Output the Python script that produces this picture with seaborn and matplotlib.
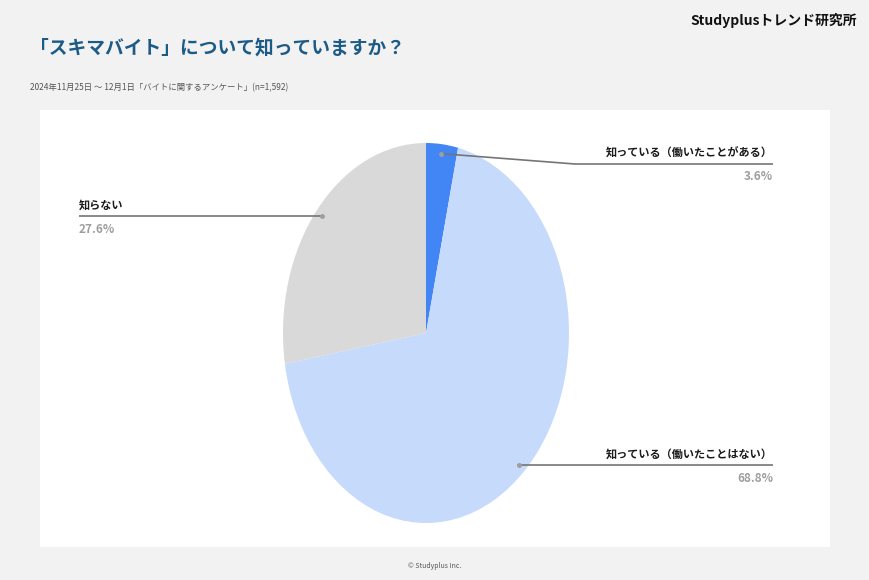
import numpy as np
import matplotlib.pyplot as plt
import seaborn as sns

# Data
labels = ['知っている（働いたことがある）', '知っている（働いたことはない）', '知らない']
values = [3.6, 68.8, 27.6]
colors = ['#4285f4', '#c6dafc', '#d9d9d9']

title = '「スキマバイト」について知っていますか？'
subtitle = '2024年11月25日 ～ 12月1日「バイトに関するアンケート」(n=1,592)'
brand = 'Studyplusトレンド研究所'
footer = '© Studyplus Inc.'

sns.set_theme(style='white')
plt.rcParams['font.family'] = ['Noto Sans CJK JP', 'DejaVu Sans']

W, H = 870, 580
fig = plt.figure(figsize=(W / 100, H / 100), dpi=100)
fig.patch.set_facecolor('#f2f2f2')

# white panel holding the pie
px0, py0, px1, py1 = 40, 110, 830, 547
ax = fig.add_axes([px0 / W, 1 - py1 / H, (px1 - px0) / W, (py1 - py0) / H])

wedges, _ = ax.pie(values, colors=colors, startangle=90, counterclock=False,
                   wedgeprops=dict(linewidth=0))
ax.set_frame_on(True)
ax.set_facecolor('white')
for s in ax.spines.values():
    s.set_visible(False)
ax.set_aspect('auto')
# pie centre at (426, 333) px, radii 143 x 190 px
cx, cy, rx, ry = 426, 333, 143, 190
ax.set_xlim((px0 - cx) / rx, (px1 - cx) / rx)
ax.set_ylim((cy - py1) / ry, (cy - py0) / ry)
ax.set_xticks([])
ax.set_yticks([])


def to_data(x, y):
    return (x - cx) / rx, (cy - y) / ry


# label layout in pixels: (text x, text y, align, line start x, line end x, line y)
layout = [
    (773, 153, 'right', 575, 773, 164),
    (773, 454, 'right', 518, 773, 465),
    (79, 205, 'left', 79, 323, 216),
]

for w, lab, val, (tx, ty, ha, lx0, lx1, ly) in zip(wedges, labels, values, layout):
    ang = np.deg2rad((w.theta1 + w.theta2) / 2)
    axx, ayy = 0.95 * np.cos(ang), 0.95 * np.sin(ang)
    # leader line to the underline
    if ha == 'right':
        near = to_data(lx0, ly)
        far = to_data(lx1, ly)
    else:
        near = to_data(lx1, ly)
        far = to_data(lx0, ly)
    ax.plot([axx, near[0], far[0]], [ayy, near[1], far[1]], color='#757575', lw=1.2,
            solid_capstyle='butt', clip_on=False)
    ax.plot([axx], [ayy], 'o', ms=2.5, color='#9e9e9e', clip_on=False)
    fig.text(tx / W, 1 - ty / H, lab, ha=ha, va='center', fontsize=8,
             fontweight='bold', color='#1a1a1a')
    fig.text(tx / W, 1 - (ty + 24) / H, f'{val}%', ha=ha, va='center', fontsize=8.5,
             fontweight='bold', color='#9e9e9e')

fig.text(30 / W, 1 - 48 / H, title, ha='left', va='center', fontsize=13.5,
         fontweight='bold', color='#1d5b87')
fig.text(30 / W, 1 - 88 / H, subtitle, ha='left', va='center', fontsize=6, color='#555555')
fig.text(857 / W, 1 - 20 / H, brand, ha='right', va='center', fontsize=10,
         fontweight='bold', color='#111111')
fig.text(435 / W, 1 - 566 / H, footer, ha='center', va='center', fontsize=5, color='#555555')

fig.savefig('out.png', dpi=100, facecolor=fig.get_facecolor())
